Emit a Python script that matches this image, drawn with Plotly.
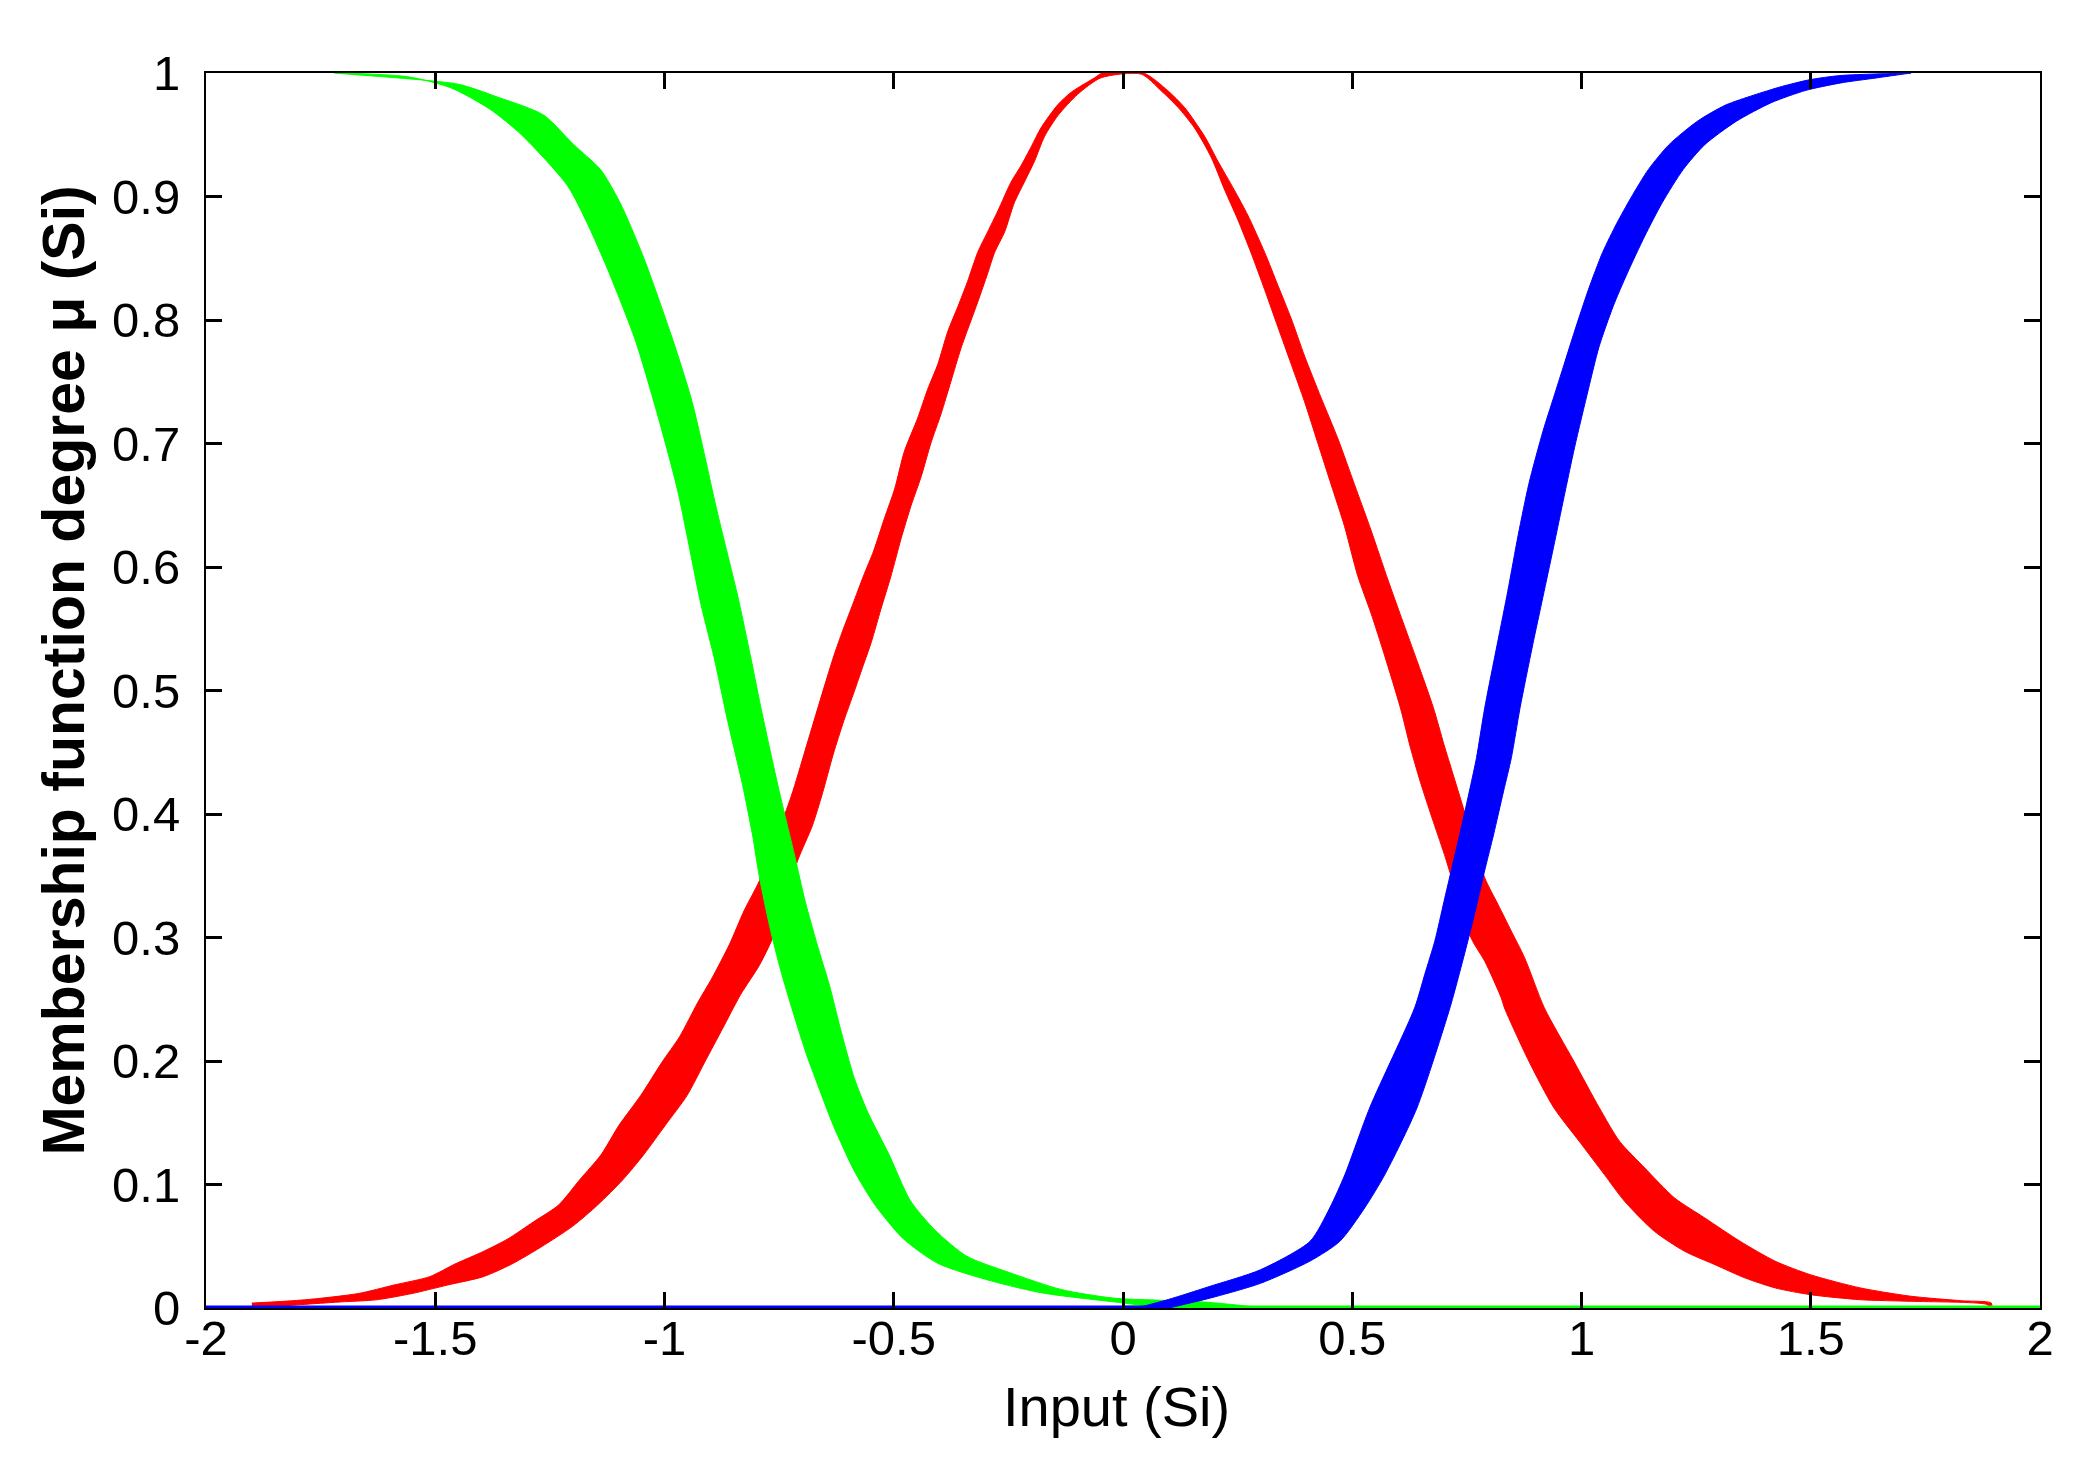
import plotly.graph_objects as go

# ---------------- data ----------------
x_tick_vals = [-2, -1.5, -1, -0.5, 0, 0.5, 1, 1.5, 2]
x_tick_text = ["-2", "-1.5", "-1", "-0.5", "0", "0.5", "1", "1.5", "2"]
y_tick_vals = [0, 0.1, 0.2, 0.3, 0.4, 0.5, 0.6, 0.7, 0.8, 0.9, 1]
y_tick_text = ["0", "0.1", "0.2", "0.3", "0.4", "0.5", "0.6", "0.7", "0.8", "0.9", "1"]

# Red (bell) band: outer edge of left branch (bottom -> top)
red_left_outer_x = [-1.90, -1.785, -1.668, -1.590, -1.512, -1.457, -1.395, -1.341, -1.286, -1.231,
                    -1.185, -1.138, -1.099, -1.052, -1.005, -0.967, -0.928, -0.896, -0.858, -0.826,
                    -0.793, -0.724, -0.693, -0.663, -0.632, -0.614, -0.590, -0.566, -0.544, -0.520,
                    -0.498, -0.477, -0.448, -0.426, -0.404, -0.382, -0.360, -0.339, -0.317, -0.295,
                    -0.273, -0.244, -0.222, -0.200, -0.179, -0.142, -0.113, -0.062, -0.045]
red_left_outer_y = [0.004, 0.0066, 0.0117, 0.0186, 0.0254, 0.0356, 0.0458, 0.0561, 0.0697, 0.0834,
                    0.1038, 0.1243, 0.1481, 0.1720, 0.1993, 0.2197, 0.2470, 0.2674, 0.2947, 0.3220,
                    0.346, 0.414, 0.4518, 0.489, 0.5265, 0.5457, 0.5692, 0.5928, 0.6129, 0.6398,
                    0.6633, 0.6935, 0.7204, 0.7439, 0.7641, 0.7909, 0.8110, 0.8312, 0.8547, 0.8715,
                    0.8883, 0.9118, 0.9252, 0.9404, 0.9555, 0.9744, 0.9844, 0.9961, 1.0]
# Red right branch outer edge (top -> bottom)
red_right_outer_x = [0.045, 0.0977, 0.134, 0.178, 0.207, 0.243, 0.272, 0.309, 0.338, 0.367,
                     0.396, 0.432, 0.469, 0.505, 0.541, 0.578, 0.607, 0.643, 0.677, 0.700,
                     0.720, 0.740, 0.789, 0.818, 0.847, 0.876, 0.919, 0.983, 1.039, 1.083,
                     1.138, 1.203, 1.269, 1.346, 1.423, 1.499, 1.609, 1.719, 1.828, 1.894]
red_right_outer_y = [1.0, 0.9857, 0.9722, 0.9487, 0.9286, 0.9051, 0.8850, 0.8547, 0.8279, 0.8010,
                     0.7708, 0.7371, 0.7036, 0.6667, 0.6297, 0.5894, 0.5592, 0.5222, 0.486, 0.4563,
                     0.4320, 0.4077, 0.3483, 0.3267, 0.3051, 0.2835, 0.2430, 0.200, 0.1620, 0.1350,
                     0.1134, 0.0891, 0.0729, 0.0540, 0.0378, 0.0270, 0.0162, 0.0095, 0.0059, 0.004]
# Red right branch inner edge (bottom -> top)
red_right_inner_x = [1.894, 1.883, 1.719, 1.609, 1.499, 1.423, 1.357, 1.291, 1.225, 1.159,
                     1.094, 1.050, 0.995, 0.940, 0.885, 0.832, 0.825, 0.789, 0.759, 0.701,
                     0.674, 0.648, 0.627, 0.605, 0.570, 0.541, 0.512, 0.483, 0.454, 0.425,
                     0.396, 0.367, 0.338, 0.309, 0.279, 0.250, 0.222, 0.192, 0.156, 0.120,
                     0.083, 0.0395]
red_right_inner_y = [0.0, 0.0030, 0.0054, 0.0067, 0.0108, 0.0162, 0.0243, 0.0351, 0.0459, 0.0621,
                     0.0864, 0.1080, 0.1350, 0.1620, 0.200, 0.2430, 0.2511, 0.2808, 0.2997, 0.3672,
                     0.3969, 0.4266, 0.4536, 0.486, 0.5290, 0.5625, 0.5928, 0.6331, 0.6667, 0.7003,
                     0.7338, 0.7641, 0.7942, 0.8245, 0.8547, 0.8816, 0.9051, 0.9320, 0.9555, 0.9722,
                     0.9857, 0.9991]
# Red left branch inner edge (top -> bottom)
red_left_inner_x = [-0.048, -0.099, -0.142, -0.171, -0.193, -0.215, -0.237, -0.258, -0.280, -0.295,
                    -0.317, -0.353, -0.375, -0.397, -0.419, -0.440, -0.462, -0.484, -0.506, -0.528,
                    -0.549, -0.568, -0.586, -0.609, -0.632, -0.655, -0.678, -0.709, -0.762, -0.793,
                    -0.834, -0.873, -0.912, -0.951, -0.998, -1.045, -1.091, -1.146, -1.200, -1.270,
                    -1.333, -1.395, -1.473, -1.551, -1.629, -1.707, -1.90]
red_left_inner_y = [0.9961, 0.9827, 0.9655, 0.9487, 0.9286, 0.9118, 0.895, 0.8715, 0.8547, 0.8379,
                    0.8144, 0.7775, 0.7506, 0.7238, 0.7003, 0.6734, 0.6499, 0.6230, 0.5928, 0.5659,
                    0.5390, 0.5188, 0.4993, 0.4754, 0.4484, 0.4174, 0.3901, 0.3629, 0.3015, 0.2776,
                    0.2538, 0.2265, 0.1993, 0.1720, 0.1481, 0.1243, 0.1038, 0.0834, 0.0663, 0.0492,
                    0.0356, 0.0254, 0.0186, 0.0117, 0.0066, 0.0049, 0.0]

# Green (decreasing) band: left edge (top -> bottom)
green_left_x = [-1.72, -1.56, -1.466, -1.382, -1.312, -1.212, -1.168, -1.124, -1.064, -1.018,
                -0.972, -0.920, -0.892, -0.862, -0.830, -0.808, -0.793, -0.770, -0.747, -0.720,
                -0.690, -0.660, -0.632, -0.586, -0.540, -0.479, -0.403, -0.288, -0.173, -0.020, 0.10]
green_left_y = [1.0, 0.997, 0.988, 0.971, 0.950, 0.909, 0.878, 0.841, 0.784, 0.727,
                0.663, 0.569, 0.527, 0.475, 0.424, 0.383, 0.349, 0.308, 0.274, 0.240,
                0.205, 0.175, 0.148, 0.111, 0.083, 0.056, 0.036, 0.022, 0.012, 0.005, 0.0]
# Green right edge (bottom -> top)
green_right_x = [0.30, 0.171, -0.020, -0.135, -0.250, -0.341, -0.410, -0.464, -0.510, -0.556,
                 -0.586, -0.617, -0.640, -0.662, -0.693, -0.716, -0.747, -0.770, -0.793, -0.812,
                 -0.840, -0.884, -0.940, -0.982, -1.046, -1.097, -1.140, -1.198, -1.264, -1.368,
                 -1.451, -1.72]
green_right_y = [0.0, 0.005, 0.008, 0.015, 0.029, 0.042, 0.063, 0.087, 0.124, 0.158,
                 0.186, 0.227, 0.261, 0.288, 0.329, 0.366, 0.414, 0.452, 0.492, 0.527,
                 0.576, 0.643, 0.734, 0.784, 0.851, 0.895, 0.922, 0.942, 0.966, 0.981,
                 0.991, 1.0]

# Blue (increasing) band: left edge (bottom -> top)
blue_left_x = [0.03, 0.10, 0.185, 0.30, 0.408, 0.451, 0.484, 0.538, 0.636, 0.658,
               0.680, 0.700, 0.717, 0.736, 0.757, 0.771, 0.789, 0.839, 0.862, 0.885,
               0.916, 0.939, 0.962, 0.985, 1.015, 1.046, 1.077, 1.107, 1.146, 1.191,
               1.253, 1.314, 1.375, 1.436, 1.497, 1.566, 1.719]
blue_left_y = [0.0, 0.007, 0.017, 0.031, 0.054, 0.081, 0.108, 0.162, 0.243, 0.270,
               0.297, 0.329, 0.356, 0.386, 0.421, 0.4455, 0.486, 0.580, 0.626, 0.667,
               0.710, 0.737, 0.764, 0.791, 0.8245, 0.8547, 0.8783, 0.8984, 0.9219, 0.942,
               0.961, 0.974, 0.982, 0.989, 0.9945, 0.998, 1.0]
# Blue right edge (top -> bottom)
blue_right_x = [1.719, 1.643, 1.566, 1.490, 1.414, 1.338, 1.269, 1.222, 1.176, 1.138,
                1.100, 1.069, 1.038, 1.015, 0.985, 0.962, 0.939, 0.916, 0.893, 0.866,
                0.847, 0.830, 0.808, 0.790, 0.770, 0.752, 0.733, 0.713, 0.641, 0.571,
                0.527, 0.473, 0.408, 0.30, 0.20, 0.10]
blue_right_y = [1.0, 0.996, 0.992, 0.986, 0.976, 0.961, 0.942, 0.922, 0.895, 0.868,
                0.838, 0.811, 0.778, 0.744, 0.697, 0.657, 0.616, 0.576, 0.536, 0.486,
                0.4455, 0.4185, 0.383, 0.356, 0.324, 0.297, 0.270, 0.243, 0.162, 0.108,
                0.081, 0.054, 0.038, 0.020, 0.009, 0.0]

# flat zero segments of the blue and green families
blue_zero_x = [-2.0, 0.05]
blue_zero_y = [0.0, 0.0]
green_zero_x = [0.0, 2.0]
green_zero_y = [0.0, 0.0]

RED = "#FF0000"
GREEN = "#00FF00"
BLUE = "#0000FF"

fig = go.Figure()


def band(xs, ys, color, name):
    fig.add_trace(go.Scatter(x=xs, y=ys, mode="lines", fill="toself", fillcolor=color,
                             line=dict(color=color, width=1, shape="spline", smoothing=0.7),
                             name=name, showlegend=False, hoverinfo="skip"))


band(red_left_outer_x + red_right_outer_x + red_right_inner_x + red_left_inner_x,
     red_left_outer_y + red_right_outer_y + red_right_inner_y + red_left_inner_y,
     RED, "red")
fig.add_trace(go.Scatter(x=green_zero_x, y=green_zero_y, mode="lines",
                         line=dict(color=GREEN, width=5), showlegend=False, hoverinfo="skip"))
band(green_left_x + green_right_x, green_left_y + green_right_y, GREEN, "green")
fig.add_trace(go.Scatter(x=blue_zero_x, y=blue_zero_y, mode="lines",
                         line=dict(color=BLUE, width=5), showlegend=False, hoverinfo="skip"))
band(blue_left_x + blue_right_x, blue_left_y + blue_right_y, BLUE, "blue")

FONT = "Liberation Sans, Arial, Helvetica, sans-serif"

axis_common = dict(showline=True, linecolor="black", linewidth=2, mirror="ticks",
                   ticks="inside", ticklen=16, tickwidth=3, tickcolor="black",
                   showgrid=False, zeroline=False,
                   tickfont=dict(family=FONT, size=49, color="black"))

fig.update_xaxes(range=[-2, 2], tickvals=x_tick_vals, ticktext=x_tick_text,
                 ticklabelstandoff=-14, **axis_common)
fig.update_yaxes(range=[0, 1], tickvals=y_tick_vals, ticktext=y_tick_text,
                 ticklabelstandoff=14, **axis_common)

fig.add_annotation(text="Input (Si)", xref="paper", yref="paper",
                   x=0.4967, y=-0.080, xanchor="center", yanchor="middle",
                   showarrow=False, font=dict(family=FONT, size=56, color="black"))
fig.add_annotation(text="Membership function degree \u03bc (Si)", xref="paper", yref="paper",
                   x=-0.0775, y=0.516, xanchor="center", yanchor="middle", textangle=-90,
                   showarrow=False, font=dict(family=FONT, size=59, color="black", weight="bold"))

fig.update_layout(width=2088, height=1477, plot_bgcolor="white", paper_bgcolor="white",
                  margin=dict(l=198, r=56, t=65, b=177), showlegend=False)

fig.write_html("out.html")
